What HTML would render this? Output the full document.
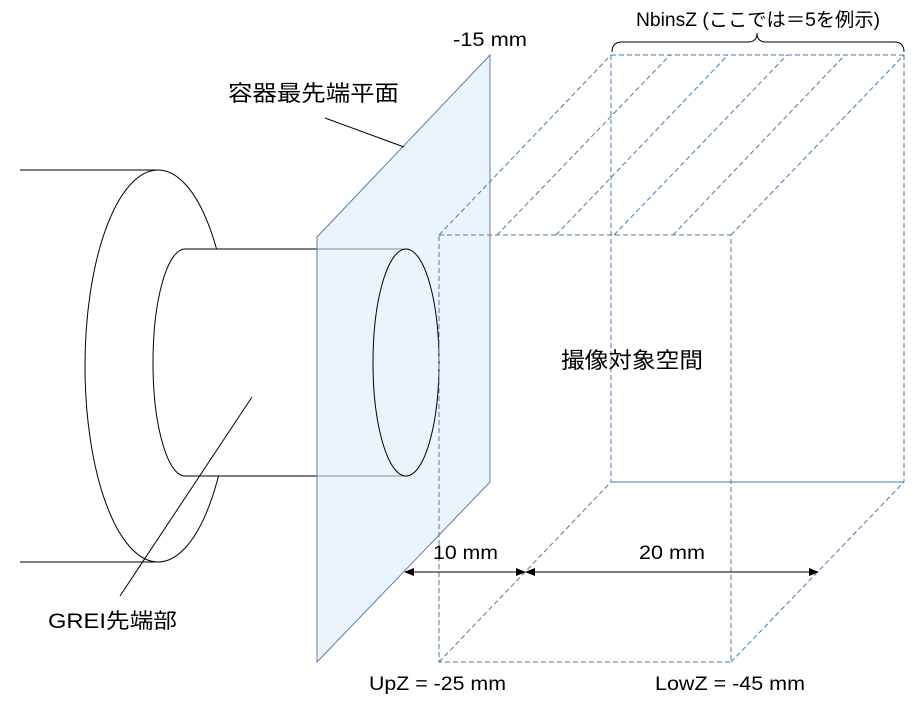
<!DOCTYPE html>
<html><head><meta charset="utf-8"><style>
html,body{margin:0;padding:0;background:#fff;}
svg text{font-family:"Liberation Sans","Noto Sans CJK JP",sans-serif;fill:#000;}
</style></head><body>
<svg width="922" height="703" viewBox="0 0 922 703" xmlns="http://www.w3.org/2000/svg">
<defs><marker id="a" markerWidth="10" markerHeight="8" refX="9" refY="4" orient="auto" markerUnits="userSpaceOnUse"><path d="M0,0 L10,4 L0,8z" fill="#000"/></marker></defs>
<line x1="20" y1="170" x2="158" y2="170" stroke="#000" stroke-width="1"/>
<line x1="20" y1="562" x2="158" y2="562" stroke="#000" stroke-width="1"/>
<ellipse cx="158" cy="366" rx="73" ry="196" fill="none" stroke="#000" stroke-width="1"/>
<path d="M185,249 L406,249 L406,476 L185,476 A32,113.5 0 0 1 185,249 Z" fill="#fff" stroke="none"/>
<path d="M185,249 A32,113.5 0 0 0 185,476" fill="none" stroke="#000"/>
<line x1="185" y1="249" x2="408" y2="249" stroke="#000"/>
<line x1="185" y1="476" x2="408" y2="476" stroke="#000"/>
<polygon points="317,237 490,55 490,482 317,662" fill="#deedfb" fill-opacity="0.6" stroke="#5b7fa3" stroke-width="1"/>
<ellipse cx="406" cy="362.5" rx="33" ry="113.5" fill="none" stroke="#000"/>
<line x1="325" y1="118" x2="404" y2="147" stroke="#000"/>
<line x1="252" y1="397" x2="120" y2="596" stroke="#000"/>
<g fill="none" stroke="#4a7bab" stroke-width="1" stroke-dasharray="5,3">
<rect x="439" y="235" width="292" height="427"/>
<line x1="611" y1="55" x2="904" y2="55"/>
<line x1="611" y1="55" x2="611" y2="482"/>
<line x1="904" y1="55" x2="904" y2="482"/>
<line x1="439" y1="235" x2="611" y2="55"/>
<line x1="439" y1="662" x2="611" y2="482"/>
<line x1="731" y1="662" x2="904" y2="482"/>
<line x1="731" y1="235" x2="904" y2="55"/>
<line x1="497" y1="235" x2="670" y2="55"/>
<line x1="556" y1="235" x2="728" y2="55"/>
<line x1="614" y1="235" x2="787" y2="55"/>
<line x1="673" y1="235" x2="845" y2="55"/>
</g>
<line x1="611" y1="482" x2="904" y2="482" stroke="#4a7bab"/>
<path d="M612,52 Q612,42 622,42 L748,42 Q757,42 757,33 Q757,42 766,42 L894,42 Q904,42 904,52" fill="none" stroke="#000"/>
<line x1="525" y1="572" x2="405" y2="572" stroke="#000" marker-end="url(#a)"/>
<line x1="405" y1="572" x2="525" y2="572" stroke="#000" marker-end="url(#a)"/>
<line x1="818" y1="572" x2="526" y2="572" stroke="#000" marker-end="url(#a)"/>
<line x1="526" y1="572" x2="818" y2="572" stroke="#000" marker-end="url(#a)"/>
<text x="453" y="46" font-size="19" textLength="74" lengthAdjust="spacingAndGlyphs">-15 mm</text>
<text x="636" y="26" font-size="19" textLength="244" lengthAdjust="spacingAndGlyphs">NbinsZ (ここでは＝5を例示)</text>
<text x="228" y="101" font-size="22" textLength="171" lengthAdjust="spacingAndGlyphs">容器最先端平面</text>
<text x="561" y="368" font-size="22" textLength="142" lengthAdjust="spacingAndGlyphs">撮像対象空間</text>
<text x="48" y="628" font-size="21" textLength="129" lengthAdjust="spacingAndGlyphs">GREI先端部</text>
<text x="433" y="559" font-size="19" textLength="65" lengthAdjust="spacingAndGlyphs">10 mm</text>
<text x="639" y="559" font-size="19" textLength="66" lengthAdjust="spacingAndGlyphs">20 mm</text>
<text x="369" y="690" font-size="19" textLength="137" lengthAdjust="spacingAndGlyphs">UpZ = -25 mm</text>
<text x="655" y="690" font-size="19" textLength="150" lengthAdjust="spacingAndGlyphs">LowZ = -45 mm</text>
</svg>
</body></html>
